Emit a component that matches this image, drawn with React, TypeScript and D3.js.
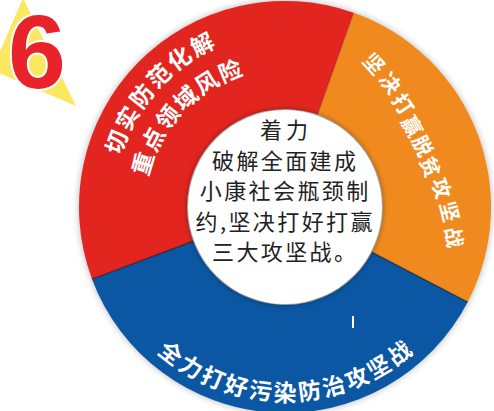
import React from "react";
import * as d3 from "d3";

const W = 494;
const H = 411;

// segment data (values are the angular share of each ring segment)
const segmentNames = ["切实防范化解重点领域风险", "坚决打赢脱贫攻坚战", "全力打好污染防治攻坚战"];
const segmentValues = [130, 98, 132];
const segmentColors = ["#e2261f", "#f08a1f", "#0b57a4"];

// ring labels
const redLine1 = "切实防范化解";
const redLine2 = "重点领域风险";
const orangeLine = "坚决打赢脱贫攻坚战";
const blueLine = "全力打好污染防治攻坚战";

// center text
const centerLines = ["着力", "破解全面建成", "小康社会瓶颈制", "约,坚决打好打赢", "三大攻坚战。"];
const badgeNumber = "6";

const cx = 285;
const cy = 207;
const rOuter = 206;
const rInner = 98;
const startDeg = -110.5;

type LabelLayout = {
  text: string;
  rIdx: number[];
  rVal: number[];
  a0: number;
  a1: number;
  rot0: number;
  rot1: number;
  fs: number;
};

const labelLayouts: LabelLayout[] = [
  { text: redLine1, rIdx: [0, 5], rVal: [182, 184], a0: -69, a1: -27, rot0: -69, rot1: -27, fs: 23 },
  { text: redLine2, rIdx: [0, 5], rVal: [150, 148], a0: -73, a1: -22, rot0: -73, rot1: -22, fs: 23 },
  { text: orangeLine, rIdx: [0, 3, 5, 8], rVal: [170, 152, 152, 173], a0: 32, a1: 100, rot0: 48, rot1: 80, fs: 20.5 },
  { text: blueLine, rIdx: [0, 10], rVal: [184, 184], a0: 218, a1: 142, rot0: 38, rot1: -38, fs: 23 },
];

const rad = (d: number) => (d * Math.PI) / 180;

export default function App() {
  const pie = d3
    .pie<number>()
    .sort(null)
    .value((d) => d)
    .startAngle(rad(startDeg))
    .endAngle(rad(startDeg + 360));
  const arcs = pie(segmentValues);
  const arcGen = d3.arc<d3.PieArcDatum<number>>().innerRadius(rInner).outerRadius(rOuter);

  const boundaries = arcs.map((a) => a.startAngle);

  const charMarks: React.ReactNode[] = [];
  labelLayouts.forEach((L, li) => {
    const chars = Array.from(L.text);
    const n = chars.length;
    const aScale = d3.scaleLinear().domain([0, n - 1]).range([L.a0, L.a1]);
    const rotScale = d3.scaleLinear().domain([0, n - 1]).range([L.rot0, L.rot1]);
    const rScale = d3.scaleLinear().domain(L.rIdx).range(L.rVal);
    chars.forEach((ch, i) => {
      const a = aScale(i);
      const r = rScale(i);
      const x = cx + r * Math.sin(rad(a));
      const y = cy - r * Math.cos(rad(a));
      const rot = rotScale(i);
      charMarks.push(
        <text
          key={`${li}-${i}`}
          x={0}
          y={0}
          transform={`translate(${x},${y}) rotate(${rot})`}
          textAnchor="middle"
          dominantBaseline="central"
          fontFamily="'Noto Sans CJK SC', sans-serif"
          fontWeight={700}
          fontSize={L.fs}
          fill="#ffffff"
        >
          {ch}
        </text>
      );
    });
  });

  const lineY = d3.scaleLinear().domain([0, centerLines.length - 1]).range([128, 250]);

  return (
    <svg
      width={W}
      height={H}
      viewBox={`0 0 ${W} ${H}`}
      style={{ position: "fixed", left: 0, top: 0, background: "#ffffff" }}
    >
      <defs>
        <filter id="halo" x="-20%" y="-20%" width="140%" height="140%">
          <feGaussianBlur stdDeviation="3" />
        </filter>
        <filter id="innerShade" x="-20%" y="-20%" width="140%" height="140%">
          <feGaussianBlur stdDeviation="2" />
        </filter>
      </defs>
      <rect x={0} y={0} width={W} height={H} fill="#ffffff" />

      {/* badge */}
      <polygon points="23,-2 -8,70 76,106" fill="#fce760" />
      <text
        x={8}
        y={88}
        fontFamily="'Liberation Sans', Arial, sans-serif"
        fontWeight={700}
        fontSize={104}
        fill="#e8232a"
        stroke="#ffffff"
        strokeWidth={4}
        paintOrder="stroke"
      >
        {badgeNumber}
      </text>

      {/* halo */}
      <circle cx={cx} cy={cy} r={rOuter + 1} fill="#000" opacity={0.22} filter="url(#halo)" />

      <g transform={`translate(${cx},${cy})`}>
        {arcs.map((a, i) => (
          <path key={segmentNames[i]} d={arcGen(a) || ""} fill={segmentColors[i]} />
        ))}
        {boundaries.map((b, i) => (
          <line
            key={i}
            x1={rInner * Math.sin(b)}
            y1={-rInner * Math.cos(b)}
            x2={rOuter * Math.sin(b)}
            y2={-rOuter * Math.cos(b)}
            stroke="#000"
            strokeOpacity={i === 1 ? 0.15 : 0.45}
            strokeWidth={1.5}
          />
        ))}
        <circle r={rInner + 1} fill="#000" opacity={0.25} filter="url(#innerShade)" />
        <circle r={rInner - 1} fill="#ffffff" />
      </g>

      {charMarks}

      {/* small stray mark */}
      <rect x={352} y={316} width={2} height={12} fill="#ffffff" />

      {centerLines.map((t, i) => (
        <text
          key={i}
          x={cx - 1 + (i === 0 ? 2 : 1.2)}
          y={lineY(i)}
          textAnchor="middle"
          dominantBaseline="central"
          fontFamily="'Noto Sans CJK SC', serif"
          fontWeight={400}
          fontSize={22}
          letterSpacing={i === 0 ? 4 : 2.4}
          fill="#222"
        >
          {t}
        </text>
      ))}
    </svg>
  );
}
